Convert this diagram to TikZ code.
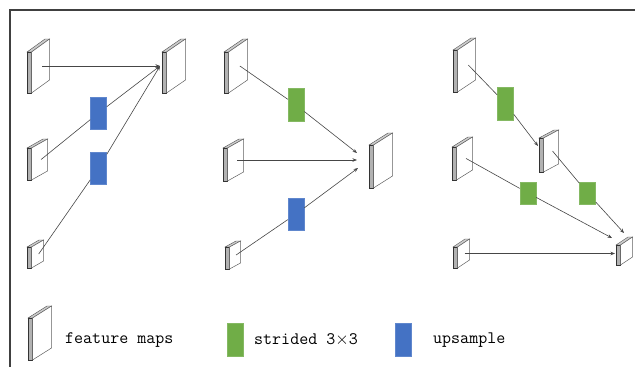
\documentclass[tikz,border=0pt]{standalone}
\usepackage{xcolor}
\usepackage{tikz}
\usetikzlibrary{arrows.meta}
\usepackage{fontspec}
\definecolor{fusegreen}{HTML}{70ad47}
\definecolor{fuseblue}{HTML}{4472c4}

\newcommand{\fmap}[6]{%
  \filldraw[fmtop] (#2,#3) -- ++(#5,-#6) -- ++(4.5,0) -- ++(-#5,#6) -- cycle;
  \filldraw[fmside] (#2,#3) rectangle ++(4.5,#4);
  \filldraw[fmface] ({#2+4.5},#3) -- ++(#5,-#6) -- ++(0,#4) -- ++(-#5,#6) -- cycle;
  \coordinate (#1) at ({#2+4.5+#5*0.6},{#3+#4/2-#6/2});
}

\begin{document}
\begin{tikzpicture}[x=1pt,y=-1pt,
  fmtop/.style={fill=gray!40,draw=gray!60!black,line width=0.4pt},
  fmside/.style={fill=gray!60,draw=gray!40!black,line width=0.5pt},
  fmface/.style={fill=white,draw=gray!75!black,line width=0.5pt},
  stride/.style={fill=fusegreen,draw=fusegreen!85!white,line width=0.5pt,inner sep=0pt,minimum width=16pt,minimum height=33pt},
  upsmp/.style={fill=fuseblue,draw=fuseblue!85!white,line width=0.5pt,inner sep=0pt,minimum width=16pt,minimum height=32pt},
  link/.style={draw=gray!55!black,line width=0.6pt},
  flow/.style={link,-{Stealth[length=4.5pt,width=3.5pt]}},
  legtext/.style={anchor=west,inner sep=0pt,font=\ttfamily\fontsize{17.5}{20}\selectfont}]
  \useasboundingbox (0,0) rectangle (635,367);
  \draw[gray!50!black,line width=1.2pt] (635,10) -- (10,10) -- (10,367);

  \fmap{a1}{27}{52}{41}{18}{13}
  \fmap{a2}{27}{148}{32}{16}{9}
  \fmap{a3}{27}{247}{21}{12}{7}
  \fmap{a4}{162}{52}{41}{19}{13}
  \coordinate (a-in) at (160,66);
  \node[upsmp] (up1) at (98.5,113) {};
  \node[upsmp] (up2) at (98.5,168) {};
  \draw[flow] (a1) -- (a-in);
  \draw[link] (a2) -- (up1);
  \draw[flow] (up1) -- (a-in);
  \draw[link] (a3) -- (up2);
  \draw[flow] (up2) -- (a-in);

  \fmap{b1}{224}{52}{41}{19}{13}
  \fmap{b2}{223}{148}{33}{16}{9}
  \fmap{b3}{225}{247}{22}{11}{6}
  \fmap{b4}{369}{145}{43}{19}{12}
  \coordinate (b-in1) at (357,153);
  \coordinate (b-in2) at (357,160);
  \coordinate (b-in3) at (358,168);
  \node[stride] (st1) at (296,105) {};
  \node[upsmp] (up3) at (296,214) {};
  \draw[link] (b1) -- (st1);
  \draw[flow] (st1) -- (b-in1);
  \draw[flow] (b2) -- (b-in2);
  \draw[link] (b3) -- (up3);
  \draw[flow] (up3) -- (b-in3);

  \fmap{c1}{453}{50}{42}{18}{12}
  \fmap{c2}{539}{138}{34}{15}{8}
  \fmap{c3}{452}{147}{33}{16}{10}
  \fmap{c4}{453}{247}{21}{12}{8}
  \fmap{c5}{616}{245}{20}{12}{8}
  \coordinate (c-in1) at (538,146);
  \coordinate (c-in2) at (624,233);
  \coordinate (c-in3) at (612,238);
  \coordinate (c-in4) at (615,253.5);
  \node[stride] (st2) at (505.5,103.5) {};
  \node[stride,minimum height=22pt] (st3) at (587.5,193) {};
  \node[stride,minimum height=22pt] (st4) at (528,193) {};
  \draw[link] (c1) -- (st2);
  \draw[flow] (st2) -- (c-in1);
  \draw[link] (c2) -- (st3);
  \draw[flow] (st3) -- (c-in2);
  \draw[link] (c3) -- (st4);
  \draw[flow] (st4) -- (c-in3);
  \draw[flow] (c4) -- (c-in4);

  \fmap{l1}{28}{318}{42}{19}{12}
  \node[legtext] (t1) at (65,340) {feature maps};
  \node[stride] (st5) at (235.5,339.5) {};
  \node[legtext] (t2) at (254,340) {strided 3\(\times\)3};
  \node[upsmp,minimum height=33pt] (up4) at (403,339.5) {};
  \node[legtext] (t3) at (433,340) {upsample};
\end{tikzpicture}
\end{document}
